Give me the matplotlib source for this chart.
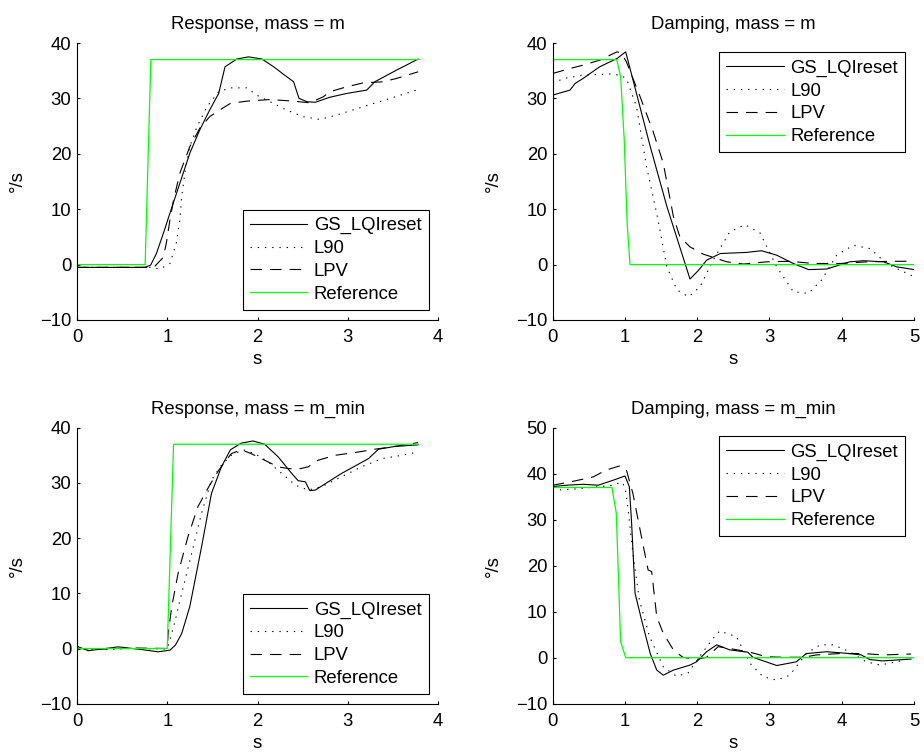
import matplotlib
matplotlib.use("Agg")
import matplotlib.pyplot as plt

plt.rcParams['font.family'] = ['Liberation Sans', 'DejaVu Sans']
FS = 13.3

# ---------------- data ----------------
# Response, mass = m
r1_ref_t = [0, 0.755, 0.818, 3.78]
r1_ref_v = [0, 0, 37, 37]
r1_gs_t = [0, 0.75, 0.816, 0.88, 0.956, 1.03, 1.14, 1.25, 1.36, 1.47, 1.57, 1.64, 1.77, 1.9,
           2.05, 2.18, 2.3, 2.4, 2.46, 2.55, 2.64, 2.8, 2.99, 3.21, 3.3, 3.54, 3.78]
r1_gs_v = [-0.5, -0.5, -0.1, 2, 5.6, 9.3, 14.7, 20.1, 24.3, 27.9, 30.9, 35.7, 37.1, 37.5,
           37.1, 35.7, 34.2, 33, 30, 29.4, 29.3, 30.2, 30.9, 31.5, 33, 35.1, 37.1]
r1_l90_t = [0, 0.81, 0.92, 1.03, 1.1, 1.14, 1.16, 1.2, 1.25, 1.33, 1.44, 1.57, 1.7, 1.88,
            1.99, 2.14, 2.32, 2.51, 2.69, 2.88, 3.17, 3.47, 3.78]
r1_l90_v = [-0.5, -0.5, -0.8, 0.2, 3.9, 8.1, 12.3, 17.1, 21.3, 24.9, 28.5, 31.2, 31.9, 31.9,
            30.6, 29.4, 27.9, 26.7, 26.2, 27, 28.5, 30, 31.6]
r1_lpv_t = [0, 0.85, 0.956, 0.99, 1.03, 1.07, 1.14, 1.25, 1.36, 1.47, 1.58, 1.7, 1.88, 2.14,
            2.4, 2.58, 2.73, 2.8, 2.99, 3.17, 3.39, 3.54, 3.78]
r1_lpv_v = [-0.5, -0.5, 1.3, 3.9, 8.1, 11.7, 16.5, 21.3, 24.6, 26.7, 27.9, 29.1, 29.5, 29.8,
            29.5, 29.2, 30.3, 31.2, 32.1, 32.8, 33, 33.6, 34.8]

# Damping, mass = m
d1_ref_t = [0, 0.886, 0.94, 0.99, 1.03, 1.07, 5]
d1_ref_v = [37, 37, 33.9, 22.5, 7.5, 0, 0]
d1_gs_t = [0, 0.24, 0.31, 0.42, 0.65, 0.89, 1.01, 1.07, 1.35, 1.58, 1.9, 2.02, 2.13, 2.32,
           2.68, 2.89, 3.1, 3.33, 3.54, 3.79, 4.11, 4.3, 4.58, 4.76, 5.0]
d1_gs_v = [30.6, 31.5, 32.7, 33.6, 35.7, 37.2, 38.4, 35.4, 21.3, 10.5, -2.6, -1, 0.8, 2,
           2.2, 2.5, 1.7, 0.2, -0.9, -0.8, 0.5, 0.7, 0.5, -0.4, -0.9]
d1_l90_t = [0, 0.15, 0.42, 0.79, 0.93, 1.02, 1.16, 1.3, 1.44, 1.58, 1.72, 1.88, 2.04, 2.22,
            2.45, 2.66, 2.87, 3.1, 3.33, 3.54, 3.72, 3.93, 4.16, 4.39, 4.62, 4.81, 5.0]
d1_l90_v = [32.7, 33.6, 34.2, 34.4, 34.2, 33.6, 28.5, 17.6, 9.2, -0.4, -4.6, -5.8, -4, 0.8,
            5.9, 7.2, 5.7, -0.4, -4.9, -5.2, -2.8, 1.7, 3.5, 2.9, 0.2, -1, -2.2]
d1_lpv_t = [0, 0.24, 0.42, 0.65, 0.89, 0.95, 1.02, 1.21, 1.39, 1.53, 1.6, 1.67, 1.76, 1.9,
            2.08, 2.27, 2.41, 2.64, 2.96, 3.28, 3.61, 3.98, 4.35, 4.71, 5.0]
d1_lpv_v = [34.5, 35.4, 36, 36.9, 38.4, 38.2, 36.6, 30.3, 24, 18.3, 13.5, 8.7, 5, 3.2,
            1.9, 1.1, 0.5, 0.1, 0.5, 0.6, 0.2, 0.2, 0.5, 0.6, 0.6]

# Response, mass = m_min
r2_ref_t = [0, 1.0, 1.07, 3.78]
r2_ref_v = [0, 0, 37, 37]
r2_gs_t = [0, 0.125, 0.46, 0.72, 0.9, 1.03, 1.09, 1.16, 1.25, 1.38, 1.49, 1.6, 1.7, 1.82,
           1.95, 2.08, 2.23, 2.38, 2.45, 2.53, 2.58, 2.64, 2.93, 3.23, 3.34, 3.52, 3.78]
r2_gs_v = [0.4, -0.4, 0.3, -0.2, -0.6, -0.3, 0.6, 2.7, 7.6, 18.4, 28.1, 32.9, 36, 37.2,
           37.6, 37, 34.7, 31.7, 30.4, 30.2, 28.6, 28.7, 31.7, 34.4, 36.1, 36.6, 36.9]
r2_l90_t = [0, 0.3, 0.6, 1.0, 1.03, 1.09, 1.16, 1.27, 1.38, 1.49, 1.6, 1.71, 1.84, 1.97,
            2.12, 2.27, 2.42, 2.56, 2.71, 2.93, 3.15, 3.38, 3.6, 3.78]
r2_l90_v = [0, -0.2, 0, -0.1, 1.5, 5.2, 10, 17.2, 24.5, 30.5, 33.2, 35, 36, 35.3,
            33.8, 31.7, 29.6, 28.7, 29.3, 31.1, 32.9, 34.4, 35, 35.6]
r2_lpv_t = [0, 0.3, 0.6, 1.0, 1.01, 1.05, 1.12, 1.23, 1.34, 1.46, 1.57, 1.71, 1.82, 1.93,
            2.08, 2.23, 2.34, 2.45, 2.56, 2.67, 2.86, 3.12, 3.3, 3.52, 3.78]
r2_lpv_v = [0, -0.1, 0.1, 0, 2.7, 7.6, 13.6, 20.3, 25.7, 29.3, 32.3, 35.3, 36, 35.3,
            34.1, 32.9, 32.6, 32.5, 32.9, 34.1, 35, 35.6, 36.1, 36.6, 37.3]

# Damping, mass = m_min
d2_ref_t = [0, 0.82, 0.88, 0.94, 1.01, 5]
d2_ref_v = [37, 37, 31.4, 3.5, 0, 0]
d2_gs_t = [0, 0.19, 0.42, 0.63, 0.84, 1.0, 1.06, 1.09, 1.14, 1.23, 1.35, 1.44, 1.53, 1.67,
           1.9, 1.99, 2.13, 2.27, 2.45, 2.7, 2.77, 3.1, 3.37, 3.51, 3.79, 4.11, 4.27, 4.39,
           4.57, 4.96]
d2_gs_v = [37.2, 37.5, 37.7, 37.5, 38.6, 39.5, 37.2, 29.9, 14, 8.2, 0.9, -2.7, -3.8, -2.7,
           -1.6, -0.9, 1.3, 2.8, 1.7, 1.2, 0.1, -1.7, -0.9, 0.9, 1.3, 0.9, 0.6, -0.4,
           -0.7, -0.3]
d2_l90_t = [0, 0.33, 0.84, 0.95, 1.0, 1.04, 1.11, 1.2, 1.34, 1.53, 1.71, 1.87, 2.03, 2.22,
            2.31, 2.54, 2.73, 2.91, 3.1, 3.28, 3.51, 3.7, 3.88, 4.11, 4.34, 4.53, 4.76, 4.96]
d2_l90_v = [36.4, 36.7, 37.5, 38.2, 37.2, 32.8, 22.7, 12.5, 4.6, -2, -4, -3.4, 0.2, 4.2,
            5.8, 4.6, -1.2, -4.1, -4.9, -3.8, 0.9, 2.8, 2.8, 1.3, -0.9, -1.6, -0.9, -0.1]
d2_lpv_t = [0, 0.24, 0.56, 0.74, 0.93, 1.02, 1.11, 1.2, 1.32, 1.37, 1.44, 1.53, 1.67, 1.8,
            1.99, 2.13, 2.29, 2.45, 2.73, 2.96, 3.18, 3.47, 3.65, 3.97, 4.3, 4.57, 4.96]
d2_lpv_v = [37.5, 38.2, 39.3, 40.8, 41.7, 40.8, 35.7, 28.5, 19.1, 18.7, 8.9, 5.3, 1.7, 0.1,
            -0.4, 0.1, 2.4, 2, 1.2, 0.2, 0.1, 0.1, 0.6, 0.9, 0.9, 0.6, 0.8]

titles = ["Response, mass = m", "Damping, mass = m",
          "Response, mass = m_min", "Damping, mass = m_min"]
labels = ["GS_LQIreset", "L90", "LPV", "Reference"]

panels = [
    (r1_gs_t, r1_gs_v, r1_l90_t, r1_l90_v, r1_lpv_t, r1_lpv_v, r1_ref_t, r1_ref_v),
    (d1_gs_t, d1_gs_v, d1_l90_t, d1_l90_v, d1_lpv_t, d1_lpv_v, d1_ref_t, d1_ref_v),
    (r2_gs_t, r2_gs_v, r2_l90_t, r2_l90_v, r2_lpv_t, r2_lpv_v, r2_ref_t, r2_ref_v),
    (d2_gs_t, d2_gs_v, d2_l90_t, d2_l90_v, d2_lpv_t, d2_lpv_v, d2_ref_t, d2_ref_v),
]
xlims = [(0, 4), (0, 5), (0, 4), (0, 5)]
ylims = [(-10, 40), (-10, 40), (-10, 40), (-10, 50)]

# ---------------- layout (pixels) ----------------
W, H = 924, 753
fig = plt.figure(figsize=(W / 100, H / 100), dpi=100)
ax_px = [(77, 43, 438, 320), (552.7, 43, 914, 320),
         (77, 427.7, 438, 703.7), (552.7, 427.7, 914, 703.7)]
leg_anchor = [((429, 310), 'lower right'), ((905.3, 52.3), 'upper right'),
              ((429, 694.3), 'lower right'), ((905.3, 436.3), 'upper right')]

for i in range(4):
    x0, y0, x1, y1 = ax_px[i]
    ax = fig.add_axes([x0 / W, 1 - y1 / H, (x1 - x0) / W, (y1 - y0) / H])
    gt, gv, lt, lv, pt, pv, rt, rv = panels[i]
    ax.plot(gt, gv, color='black', lw=0.8, label=labels[0])
    ax.plot(lt, lv, color='black', lw=0.8, linestyle=(0, (1.2, 5.3)), label=labels[1])
    ax.plot(pt, pv, color='black', lw=0.8, linestyle=(0, (10.4, 7.2)), label=labels[2])
    ax.plot(rt, rv, color='#00ff00', lw=0.9, label=labels[3])
    ax.set_xlim(*xlims[i])
    ax.set_ylim(*ylims[i])
    ax.set_xticks(range(xlims[i][0], xlims[i][1] + 1))
    ax.set_yticks(range(ylims[i][0], ylims[i][1] + 1, 10))
    for s in ('top', 'right'):
        ax.spines[s].set_visible(False)
    for s in ('left', 'bottom'):
        ax.spines[s].set_linewidth(0.8)
    ax.tick_params(direction='in', length=2.5, width=0.8, labelsize=FS)
    ax.tick_params(axis='x', pad=6.5)
    ax.tick_params(axis='y', pad=4)
    ax.set_title(titles[i], fontsize=FS, pad=10)
    ax.set_xlabel('s', fontsize=FS)
    ax.set_ylabel('°/s', fontsize=FS)
    hpx = y1 - y0
    wpx = x1 - x0
    ax.xaxis.set_label_coords(0.5, -31 / hpx)
    ax.yaxis.set_label_coords(-51 / wpx, 0.5)
    (lx, ly), loc = leg_anchor[i]
    leg = ax.legend(loc=loc, bbox_to_anchor=(lx / W, 1 - ly / H),
                    bbox_transform=fig.transFigure, fontsize=FS,
                    frameon=True, fancybox=False, borderaxespad=0,
                    borderpad=0.4, labelspacing=0.31, handlelength=3.1,
                    handletextpad=0.36)
    fr = leg.get_frame()
    fr.set_edgecolor('black')
    fr.set_linewidth(0.8)
    fr.set_alpha(None)
    fr.set_facecolor('white')

fig.savefig('out.png', dpi=100)
